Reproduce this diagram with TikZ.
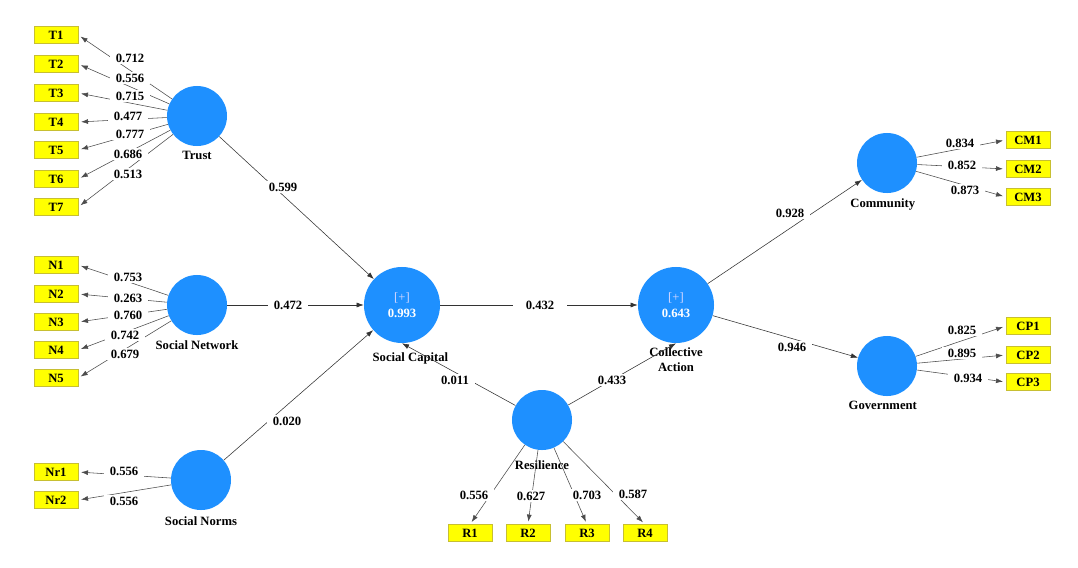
\documentclass[tikz,border=0pt]{standalone}
\usepackage{fontspec}
\setmainfont{Liberation Serif}
\usepackage{tikz}
\usetikzlibrary{positioning,arrows.meta}
\definecolor{lvblue}{RGB}{30,144,255}
\definecolor{mvyellow}{RGB}{255,255,0}

\begin{document}
\begin{tikzpicture}[x=0.025cm, y=-0.025cm,
    font=\fontsize{9}{10.5}\selectfont\bfseries,
    lv/.style={circle, fill=lvblue, minimum size=1.5cm, inner sep=0pt},
    lvbig/.style={circle, fill=lvblue, minimum size=1.9cm, inner sep=0pt, text=white, align=center},
    mv/.style={rectangle, fill=mvyellow, draw=yellow!75!black, line width=0.3pt,
               minimum width=1.1cm, minimum height=0.42cm, inner sep=0pt},
    load/.style={draw=black!70, thin, -{Latex[length=5pt,width=3.5pt]}, shorten >=2pt},
    rel/.style={draw=black!80, thin, -{Latex[length=5pt,width=3.5pt]}},
    coef/.style={fill=white, inner xsep=4pt, inner ysep=1pt}]
    \useasboundingbox (0,0) rectangle (1078,567);
    %
    % latent variables
    \node[lv] (trust) at (197,116) {};
    \node[lv] (snet)  at (197,305) {};
    \node[lv] (snorm) at (201,480) {};
    \node[lvbig] (scap) at (402,305) {{\mdseries\color{blue!15!white}[+]}\\[1pt]0.993};
    \node[lvbig] (cact) at (676,305) {{\mdseries\color{blue!15!white}[+]}\\[1pt]0.643};
    \node[lv] (resil) at (542,420) {};
    \node[lv] (comm)  at (887,163) {};
    \node[lv] (gov)   at (887,366) {};
    %
    \node[below=0pt of trust] (trustlbl) {Trust};
    \node[below=0pt of snet] (snetlbl) {Social Network};
    \node[below=1pt of snorm] (snormlbl) {Social Norms};
    \node[below=3pt of scap, xshift=6pt] (scaplbl) {Social Capital};
    \node[below=2pt of cact, align=center, inner sep=1pt] (cactlbl) {Collective\\Action};
    \node[below=4pt of resil] (resillbl) {Resilience};
    \node[below=0pt of comm, xshift=-3pt] (commlbl) {Community};
    \node[below=0pt of gov, xshift=-3pt] (govlbl) {Government};
    %
    % indicators
    \foreach \i/\y in {1/35,2/64,3/93,4/122,5/150,6/179,7/207}
        \node[mv] (t\i) at (56,\y) {T\i};
    \foreach \i/\y in {1/265,2/294,3/322,4/350,5/378}
        \node[mv] (n\i) at (56,\y) {N\i};
    \foreach \i/\y in {1/472,2/500}
        \node[mv] (nr\i) at (56,\y) {Nr\i};
    \foreach \i/\x in {1/470,2/528,3/587,4/645}
        \node[mv] (r\i) at (\x,533) {R\i};
    \foreach \i/\y in {1/140,2/169,3/197}
        \node[mv] (cm\i) at (1028,\y) {CM\i};
    \foreach \i/\y in {1/326,2/355,3/382}
        \node[mv] (cp\i) at (1028,\y) {CP\i};
    %
    % outer loadings
    \foreach \i in {1,...,7} \draw[load] (trust) -- (t\i.east);
    \foreach \i in {1,...,5} \draw[load] (snet) -- (n\i.east);
    \foreach \i in {1,2} \draw[load] (snorm) -- (nr\i.east);
    \foreach \i in {1,...,4} \draw[load] (resil) -- (r\i.north);
    \foreach \i in {1,2,3} \draw[load] (comm) -- (cm\i.west);
    \foreach \i in {1,2,3} \draw[load] (gov) -- (cp\i.west);
    %
    % inner model
    \draw[rel] (trust) -- (scap);
    \draw[rel] (snet) -- (scap);
    \draw[rel] (snorm) -- (scap);
    \draw[rel] (scap) -- (cact);
    \draw[rel] (resil) -- (scap.south);
    \draw[rel] (resil) -- (cact.south);
    \draw[rel] (cact) -- (comm);
    \draw[rel] (cact) -- (gov);
    %
    % coefficients
    \foreach \n/\x/\y/\v in {t1/130/58/0.712, t2/130/78/0.556, t3/130/96/0.715, t4/128/116/0.477,
                             t5/130/134/0.777, t6/128/154/0.686, t7/128/174/0.513,
                             n1/128/277/0.753, n2/128/298/0.263, n3/128/315/0.760, n4/125/335/0.742,
                             n5/125/354/0.679, nr1/124/471/0.556, nr2/124/501/0.556,
                             r1/474/495/0.556, r2/531/496/0.627, r3/587/495/0.703, r4/633/494/0.587,
                             cm1/960/143/0.834, cm2/962/165/0.852, cm3/965/190/0.873,
                             cp1/962/330/0.825, cp2/962/353/0.895, cp3/968/378/0.934}
        \node[coef] (l\n) at (\x,\y) {\v};
    %
    \node[coef] (ptrust) at (283,187) {0.599};
    \node[coef] (psnet)  at (288,305) {0.472};
    \node[coef] (psnorm) at (287,421) {0.020};
    \node[coef, inner xsep=9pt] (pscap) at (540,305) {0.432};
    \node[coef] (pres1)  at (455,380) {0.011};
    \node[coef] (pres2)  at (612,380) {0.433};
    \node[coef] (pcomm)  at (790,213) {0.928};
    \node[coef] (pgov)   at (792,347) {0.946};
\end{tikzpicture}
\end{document}
